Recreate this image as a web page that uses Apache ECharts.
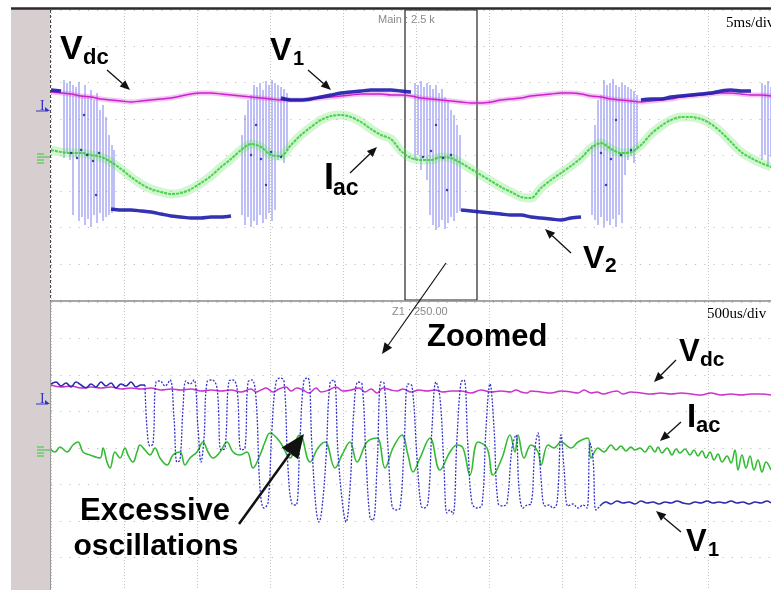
<!doctype html>
<html>
<head>
<meta charset="UTF-8">
<title>Zoomed oscillations</title>
<script src="https://cdn.jsdelivr.net/npm/echarts/dist/echarts.min.js"></script>
<style>
html,body{margin:0;padding:0;background:#fff;overflow:hidden;}
#scope{width:790px;height:600px;}
</style>
</head>
<body>
<div id="scope"></div>
<script type="text/javascript">
// main (top) record: one sample every 10 counts, 73 counts per division
var topStep = 10;
var iacTop = [5,3,2,2,0,-2,-7,-14,-22,-29,-34,-37,-39,-38,-34,-28,-21,-12,-4,5,11,8,0,-1,10,20,28,35,39,40,38,33,26,20,16,4,-3,-5,-5,-2,-3,-8,-14,-20,-26,-32,-37,-42,-43,-33,-25,-18,-11,-3,7,12,6,2,3,10,21,29,35,38,38,36,31,23,13,3,-3,-8,-12];
var vdcTop = [63,62,61,59,58,56,55,54,53,54,55,56,57,59,61,62,62,61,60,59,58,57,56,55,55,55,56,57,58,59,60,61,61,61,60,60,59,57,56,55,54,53,52,52,53,55,56,57,59,60,61,62,62,61,59,58,56,55,54,53,54,55,56,58,59,60,61,62,62,61,60,60,59];
var v1Top = [65,64,null,null,null,null,-54,-55,-55,-56,-57,-59,-61,-62,-63,-63,-62,-62,-61,null,null,null,null,57,55,55,56,58,60,62,63,64,65,65,65,64,63,null,null,null,null,-55,-56,-57,-58,-59,-60,-60,-62,-63,-64,-65,-63,-62,null,null,null,null,null,55,56,56,58,59,60,61,62,64,65,64,64,null,null];
// switching bursts: [x, low, high]
var burstTop = [
  [13,-3,75],[16,2,72],[19,-5,74],[22,-60,70],[25,-2,68],[28,-66,73],[31,-62,60],[34,-70,70],[37,-64,58],[40,-72,65],[43,-60,55],[46,-68,62],[49,-58,45],[52,-66,50],[55,-62,38],[58,-60,20],[61,-58,10],[63,-56,5],
  [191,-60,20],[194,-70,40],[197,-62,55],[200,-72,60],[203,-66,70],[206,-70,68],[209,-60,72],[212,-68,65],[215,-64,74],[218,-58,70],[221,-66,75],[224,-55,72],[227,-5,70],[230,0,68],[233,-8,66],[236,5,62],
  [364,-5,72],[367,0,70],[370,-15,74],[373,-2,68],[376,-25,72],[379,-60,70],[382,-70,66],[385,-75,70],[388,-72,62],[391,-65,66],[394,-74,58],[397,-68,55],[400,-62,45],[403,-66,40],[406,-58,30],[409,-56,20],
  [541,-60,10],[544,-65,30],[547,-70,55],[550,-62,60],[553,-72,75],[556,-66,70],[559,-70,72],[562,-64,76],[565,-72,70],[568,-60,68],[571,-68,72],[574,-20,70],[577,-5,68],[580,0,66],[583,-8,64],[586,5,60],
  [711,-5,72],[714,0,70],[717,-10,74],[720,-2,68]
];
var burstDots = [[20,2],[26,-3],[30,5],[36,0],[42,-6],[48,2],[33,40],[45,-40],[200,0],[210,-4],[220,3],[230,-2],[205,30],[215,-30],[372,-2],[380,4],[392,-3],[400,0],[385,30],[396,-35],[550,2],[560,-4],[570,0],[580,5],[555,-30],[565,35]];
var zoomBox = [354, 426];

// zoomed (bottom) record: [x, value]
var vdcZoom = [[0,63],[10,61],[20,62],[30,60],[40,61],[50,60],[60,61],[70,59],[80,60],[90,59],[100,60],[110,58],[120,59],[130,58],[140,59],[150,57],[160,58],[170,57],[180,58],[190,56],[200,59],[205,56],[210,58],[215,60],[222,56],[228,59],[235,61],[240,57],[246,60],[252,58],[258,55],[265,60],[270,56],[278,58],[285,61],[292,57],[300,58],[308,60],[314,56],[320,59],[326,55],[332,60],[340,58],[346,57],[352,59],[360,56],[368,58],[376,57],[384,58],[392,56],[400,57],[410,57],[420,55],[430,58],[440,56],[450,57],[460,56],[465,58],[470,56],[476,55],[480,57],[490,56],[500,55],[510,57],[520,56],[527,55],[533,58],[540,55],[546,56],[552,54],[560,56],[566,57],[572,54],[580,56],[590,55],[600,54],[610,55],[620,54],[630,55],[640,54],[650,53],[660,55],[670,53],[680,54],[690,53],[700,54],[710,54],[720,53]];
var iacZoom = [[0,-2],[4,-4],[9,1],[16,-4],[22,3],[27,6],[32,-4],[39,-7],[49,-10],[52,0],[56,-14],[59,-20],[64,-4],[69,-10],[74,0],[77,-7],[82,-14],[86,-4],[89,3],[94,-2],[99,-7],[104,0],[109,-10],[116,-17],[122,-7],[129,-4],[134,-17],[139,-10],[146,-4],[152,6],[157,-4],[162,-10],[169,-4],[176,6],[182,-4],[189,-7],[196,-4],[202,-20],[209,-7],[214,6],[219,15],[229,6],[239,-10],[246,10],[249,13],[259,-14],[267,0],[274,6],[284,-20],[291,-7],[299,6],[306,-14],[316,6],[326,10],[334,-20],[342,0],[351,13],[357,-7],[362,-24],[369,-10],[379,10],[389,-22],[399,-4],[406,3],[412,0],[419,-27],[427,6],[436,0],[442,-27],[451,-10],[459,13],[464,-4],[467,13],[473,-10],[480,3],[487,-4],[490,-17],[497,3],[503,0],[510,6],[520,0],[527,6],[537,10],[540,-10],[547,0],[553,-4],[560,3],[565,-2],[570,2],[575,-3],[580,1],[584,-2],[589,0],[594,-4],[599,2],[604,-4],[607,1],[611,-5],[616,0],[621,-7],[625,-1],[629,-5],[634,-1],[639,-7],[643,-2],[647,-8],[651,-3],[655,-10],[659,-4],[663,-12],[667,-6],[671,-14],[676,-8],[680,-15],[684,-2],[687,-22],[691,-7],[695,-20],[699,-8],[703,-22],[707,-12],[711,-24],[715,-14],[720,-22]];
var v1Lead = [[0,64],[5,66],[10,62],[15,65],[20,61],[25,66],[30,63],[35,60],[40,64],[45,61],[50,66],[55,62],[60,65],[65,60],[70,64],[75,62],[80,66],[85,61],[90,63],[94,63]];
var v1Osc = [[94,63],[96,20],[99,2],[102,4],[105,66],[109,67],[114,62],[119,68],[123,30],[126,-14],[129,-12],[132,40],[135,67],[139,64],[143,68],[147,20],[150,-14],[153,10],[156,66],[161,68],[166,60],[170,-2],[174,0],[178,67],[182,68],[186,60],[190,-2],[194,0],[197,66],[201,68],[205,50],[209,-40],[213,-60],[217,-55],[221,20],[225,66],[229,70],[233,67],[237,-20],[241,-56],[245,-57],[249,10],[253,68],[257,70],[261,0],[265,-60],[268,-74],[271,-60],[275,-10],[279,65],[283,68],[287,-5],[292,-60],[295,-74],[299,-40],[303,40],[307,66],[311,64],[315,-10],[319,-70],[322,-72],[326,-20],[330,66],[333,65],[337,0],[341,-58],[345,-62],[349,-60],[353,0],[357,64],[361,62],[366,-10],[370,-58],[373,-60],[377,-55],[381,20],[385,66],[389,50],[393,-20],[396,-65],[399,-62],[402,-66],[406,10],[410,66],[413,68],[417,0],[421,-55],[426,-60],[431,-57],[435,20],[439,64],[443,20],[447,-55],[452,-58],[456,-55],[461,0],[465,13],[468,-40],[472,-60],[476,-57],[480,-56],[484,0],[487,15],[490,-30],[494,-58],[498,-57],[502,-60],[506,-55],[510,13],[513,-20],[517,-58],[522,-56],[527,-60],[532,-57],[536,-60],[539,5],[542,-10],[545,-62],[549,-58]];
var v1Tail = [[549,-58],[555,-54],[560,-56],[566,-53],[572,-55],[578,-54],[584,-56],[590,-53],[596,-55],[602,-54],[608,-56],[614,-54],[620,-55],[626,-53],[632,-55],[638,-56],[644,-54],[650,-55],[656,-53],[662,-55],[668,-54],[674,-55],[680,-53],[686,-55],[692,-54],[698,-56],[704,-54],[710,-55],[716,-53],[720,-55]];

function toPairs(arr) {
  return arr.map(function (v, i) { return [i * topStep, v]; });
}

function arrow(x1, y1, x2, y2, head, w) {
  var a = Math.atan2(y2 - y1, x2 - x1);
  var hw = head * 0.42;
  var bx = x2 - head * Math.cos(a), by = y2 - head * Math.sin(a);
  return [
    {type: 'line', z: 30, shape: {x1: x1, y1: y1, x2: bx, y2: by}, style: {stroke: '#111', lineWidth: w}},
    {type: 'polygon', z: 30, shape: {points: [[x2, y2], [bx - hw * Math.sin(a), by + hw * Math.cos(a)], [bx + hw * Math.sin(a), by - hw * Math.cos(a)]]}, style: {fill: '#111'}}
  ];
}

function txt(x, y, s, size, opt) {
  opt = opt || {};
  return {type: 'text', z: 30, x: x, y: y, style: {
    text: s, fill: opt.color || '#000',
    font: (opt.weight || 'bold') + ' ' + size + 'px ' + (opt.family || '"Liberation Sans", Arial, sans-serif'),
    textAlign: opt.align || 'left', align: opt.align || 'left',
    textVerticalAlign: 'middle', verticalAlign: 'middle'
  }};
}

function sig(x, y, main, sub, size, subSize, subX, subDy) {
  return [txt(x, y, main, size), txt(x + subX, y + subDy, sub, subSize)];
}

function ground(y) {
  return [
    {type: 'line', z: 30, shape: {x1: 37, y1: y, x2: 50, y2: y}, style: {stroke: '#33cc33', lineWidth: 1}},
    {type: 'line', z: 30, shape: {x1: 37, y1: y - 3, x2: 44, y2: y - 3}, style: {stroke: '#33cc33', lineWidth: 1}},
    {type: 'line', z: 30, shape: {x1: 37, y1: y + 3, x2: 44, y2: y + 3}, style: {stroke: '#33cc33', lineWidth: 1}},
    {type: 'line', z: 30, shape: {x1: 37, y1: y + 6, x2: 44, y2: y + 6}, style: {stroke: '#33cc33', lineWidth: 1}}
  ];
}

function marker(y) {
  return [
    txt(40, y, 'I', 14, {color: '#3333cc', weight: 'normal', family: '"Liberation Serif", serif'}),
    {type: 'line', z: 30, shape: {x1: 36, y1: y + 5, x2: 48, y2: y + 5}, style: {stroke: '#3333cc', lineWidth: 1}},
    {type: 'polygon', z: 30, shape: {points: [[50, y + 5], [45, y + 1], [45, y + 5]]}, style: {fill: '#3333cc'}}
  ];
}

var graphics = [
  {type: 'rect', z: 1, shape: {x: 11, y: 9, width: 39, height: 581}, style: {fill: '#d7cfcf'}},
  {type: 'line', z: 25, shape: {x1: 11, y1: 8.5, x2: 790, y2: 8.5}, style: {stroke: '#2b2b2b', lineWidth: 2.5}},
  {type: 'line', z: 25, shape: {x1: 50.5, y1: 10, x2: 50.5, y2: 301}, style: {stroke: '#444', lineWidth: 1, lineDash: [3, 2]}},
  {type: 'line', z: 25, shape: {x1: 50.5, y1: 301, x2: 50.5, y2: 600}, style: {stroke: '#999', lineWidth: 1}},
  {type: 'line', z: 25, shape: {x1: 50, y1: 301, x2: 790, y2: 301}, style: {stroke: '#8a8a8a', lineWidth: 1.5}},
  txt(378, 20, 'Main : 2.5 k', 11, {color: '#8a8a8a', weight: 'normal'}),
  txt(726, 23, '5ms/div', 15, {weight: 'normal', family: '"Liberation Serif", serif'}),
  txt(392, 312, 'Z1 : 250.00', 11, {color: '#8a8a8a', weight: 'normal'}),
  txt(707, 314, '500us/div', 15, {weight: 'normal', family: '"Liberation Serif", serif'}),
  txt(427, 337, 'Zoomed', 31),
  txt(155, 511, 'Excessive', 31, {align: 'center'}),
  txt(156, 547, 'oscillations', 30, {align: 'center'})
];
graphics = graphics
  .concat(sig(60, 50, 'V', 'dc', 34, 22, 23, 8))
  .concat(sig(270, 51, 'V', '1', 32, 20, 23, 8))
  .concat(sig(324, 179, 'I', 'ac', 36, 23, 9, 10))
  .concat(sig(583, 259, 'V', '2', 32, 21, 22, 7))
  .concat(sig(679, 352, 'V', 'dc', 31, 21, 21, 8))
  .concat(sig(687, 418, 'I', 'ac', 33, 22, 9, 8))
  .concat(sig(686, 542, 'V', '1', 31, 20, 22, 8))
  .concat(arrow(107, 70, 130, 90, 10, 1.3))
  .concat(arrow(308, 70, 331, 90, 10, 1.3))
  .concat(arrow(350, 173, 377, 147, 10, 1.3))
  .concat(arrow(571, 253, 545, 229, 10, 1.3))
  .concat(arrow(446, 263, 382, 354, 11, 1.2))
  .concat(arrow(676, 360, 654, 382, 10, 1.3))
  .concat(arrow(681, 422, 660, 441, 10, 1.3))
  .concat(arrow(681, 532, 656, 511, 10, 1.3))
  .concat(arrow(239, 524, 304, 434, 24, 2.5))
  .concat(marker(106)).concat(ground(157))
  .concat(marker(399)).concat(ground(450));

var gridSplit = {
  x: {show: true, lineStyle: {color: '#c4c4c4', width: 1, type: [1, 2]}},
  y: {show: true, lineStyle: {color: '#bdbdbd', width: 1.2, type: [1.2, 8]}}
};
function xAx(i) {
  return {type: 'value', gridIndex: i, min: 0, max: 730, interval: 73, axisLine: {show: false}, axisTick: {show: false}, axisLabel: {show: false}, splitLine: gridSplit.x};
}
function yAx(i, half, step) {
  return {type: 'value', gridIndex: i, min: -half, max: half, interval: step, axisLine: {show: false}, axisTick: {show: false}, axisLabel: {show: false}, splitLine: gridSplit.y};
}

var chart = echarts.init(document.getElementById('scope'));
chart.setOption({
  backgroundColor: '#fff',
  animation: false,
  grid: [
    {left: 51, top: 10, width: 730, height: 290},
    {left: 51, top: 302, width: 730, height: 292}
  ],
  xAxis: [xAx(0), xAx(1)],
  yAxis: [yAx(0, 145, 36.25), yAx(1, 146, 36.5)],
  graphic: graphics,
  series: [
    {
      type: 'custom', xAxisIndex: 0, yAxisIndex: 0, data: burstTop, encode: {x: 0, y: [1, 2]}, z: 3,
      renderItem: function (params, api) {
        var p1 = api.coord([api.value(0), api.value(1)]);
        var p2 = api.coord([api.value(0), api.value(2)]);
        return {type: 'line', shape: {x1: p1[0], y1: p1[1], x2: p2[0], y2: p2[1]}, style: {stroke: '#8080f0', lineWidth: 1}};
      }
    },
    {type: 'line', xAxisIndex: 0, yAxisIndex: 0, data: toPairs(iacTop), symbol: 'none', smooth: 0.3, z: 4, lineStyle: {color: '#66e066', width: 9, opacity: 0.3}},
    {type: 'line', xAxisIndex: 0, yAxisIndex: 0, data: toPairs(iacTop), symbol: 'none', smooth: 0.3, z: 5, lineStyle: {color: '#33cc33', width: 2, opacity: 0.85, type: [3, 1]}},
    {type: 'line', xAxisIndex: 0, yAxisIndex: 0, data: toPairs(vdcTop), symbol: 'none', smooth: 0.3, z: 6, lineStyle: {color: '#dd55dd', width: 5, opacity: 0.35}},
    {type: 'line', xAxisIndex: 0, yAxisIndex: 0, data: toPairs(vdcTop), symbol: 'none', smooth: 0.3, z: 7, lineStyle: {color: '#cc22cc', width: 1.5}},
    {type: 'scatter', xAxisIndex: 0, yAxisIndex: 0, data: burstDots, symbolSize: 2.5, z: 8, itemStyle: {color: '#1a1aa0'}},
    {
      type: 'line', xAxisIndex: 0, yAxisIndex: 0, data: toPairs(v1Top), symbol: 'none', smooth: 0.3, z: 9, connectNulls: false,
      lineStyle: {color: '#1c1caa', width: 3.5, opacity: 0.9},
      markArea: {silent: true, itemStyle: {color: 'rgba(0,0,0,0)', borderColor: '#222', borderWidth: 1.2},
        data: [[{xAxis: zoomBox[0], yAxis: -145}, {xAxis: zoomBox[1], yAxis: 145}]]}
    },
    {type: 'line', xAxisIndex: 1, yAxisIndex: 1, data: vdcZoom, symbol: 'none', smooth: 0.4, z: 4, lineStyle: {color: '#cc33cc', width: 1.5}},
    {type: 'line', xAxisIndex: 1, yAxisIndex: 1, data: iacZoom, symbol: 'none', smooth: 0.4, z: 5, lineStyle: {color: '#33bb33', width: 1.6}},
    {type: 'line', xAxisIndex: 1, yAxisIndex: 1, data: v1Osc, symbol: 'none', smooth: 0.4, z: 6, lineStyle: {color: '#3333cc', width: 1.3, type: [2, 1.5]}},
    {type: 'line', xAxisIndex: 1, yAxisIndex: 1, data: v1Lead, symbol: 'none', smooth: 0.4, z: 7, lineStyle: {color: '#2a2ab0', width: 1.6}},
    {type: 'line', xAxisIndex: 1, yAxisIndex: 1, data: v1Tail, symbol: 'none', smooth: 0.4, z: 7, lineStyle: {color: '#2a2ab0', width: 1.6}}
  ]
});
</script>
</body>
</html>
